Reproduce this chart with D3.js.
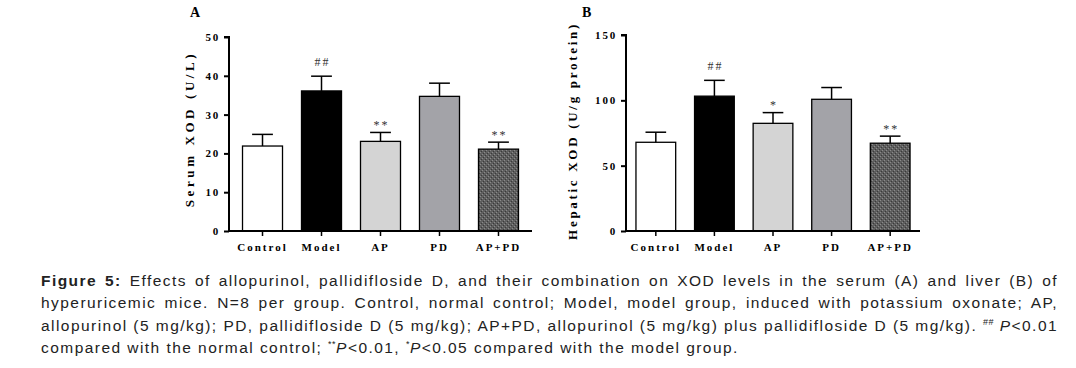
<!DOCTYPE html>
<html><head><meta charset="utf-8">
<script src="https://cdn.jsdelivr.net/npm/d3@7"></script>
<style>
html,body{margin:0;padding:0;background:#fff;width:1076px;height:368px;overflow:hidden;}
#chart{position:absolute;left:0;top:0;}
.cap{position:absolute;left:41px;width:1017px;font-family:"Liberation Sans",Arial,sans-serif;font-size:15.5px;letter-spacing:1.45px;color:#222;text-align:justify;text-align-last:justify;white-space:nowrap;line-height:22px;}
.cap.last{text-align-last:left;}
.cap sup{font-size:9px;vertical-align:6px;line-height:0;letter-spacing:0.5px;}
</style></head>
<body>
<svg id="chart" width="1076" height="368"></svg>
<div id="caption"></div>
<script>
const categories = ["Control","Model","AP","PD","AP+PD"];
const serumMean = [21.9, 36.1, 23.1, 34.7, 21.1];
const serumErr  = [24.9, 39.9, 25.4, 38.1, 22.9];
const hepaticMean = [67.9, 103.2, 82.4, 100.8, 67.2];
const hepaticErr  = [75.6, 115.3, 90.6, 109.8, 72.6];
const serumSig = ["", "##", "**", "", "**"];
const hepaticSig = ["", "##", "*", "", "**"];
const serumTicks = [0,10,20,30,40,50];
const hepaticTicks = [0,50,100,150];

const fills = ["#ffffff","#000000","#d4d4d4","#a3a3a8","url(#dots)"];
const svg = d3.select("#chart");

// pattern for AP+PD bar
const defs = svg.append("defs");
const pat = defs.append("pattern").attr("id","dots").attr("patternUnits","userSpaceOnUse")
  .attr("width",4).attr("height",4);
pat.append("rect").attr("width",4).attr("height",4).attr("fill","#5e5e5e");
pat.append("rect").attr("x",0).attr("y",0).attr("width",1).attr("height",1).attr("fill","#8a8a8a");
pat.append("rect").attr("x",2).attr("y",2).attr("width",1).attr("height",1).attr("fill","#8a8a8a");
pat.append("rect").attr("x",1).attr("y",3).attr("width",1).attr("height",1).attr("fill","#3a3a3a");
pat.append("rect").attr("x",3).attr("y",1).attr("width",1).attr("height",1).attr("fill","#3a3a3a");

const serif = "'Liberation Serif','Times New Roman',serif";

function panel(cfg){
  const g = svg.append("g");
  const x = d3.scaleBand().domain(categories).range(cfg.xr).paddingInner(0.322).paddingOuter(cfg.po);
  const y = d3.scaleLinear().domain(cfg.domain).range(cfg.yr);
  // bars
  g.selectAll("rect.bar").data(categories).join("rect")
    .attr("x",d=>x(d)).attr("width",x.bandwidth())
    .attr("y",(d,i)=>y(cfg.mean[i])).attr("height",(d,i)=>y(0)-y(cfg.mean[i]))
    .attr("fill",(d,i)=>fills[i]).attr("stroke","#000").attr("stroke-width",1.3);
  // error bars
  const cw = x.bandwidth()*0.26;
  categories.forEach((d,i)=>{
    const cx = x(d)+x.bandwidth()/2;
    g.append("line").attr("x1",cx).attr("x2",cx).attr("y1",y(cfg.mean[i])).attr("y2",y(cfg.err[i]))
      .attr("stroke","#000").attr("stroke-width",1.5);
    g.append("line").attr("x1",cx-cw).attr("x2",cx+cw).attr("y1",y(cfg.err[i])).attr("y2",y(cfg.err[i]))
      .attr("stroke","#000").attr("stroke-width",1.5);
    if(cfg.sig[i]){
      const off = cfg.sig[i].includes("#") ? 10 : 3.5;
      g.append("text").attr("x",cx+1).attr("y",y(cfg.err[i])-off)
        .attr("text-anchor","middle").attr("font-family",serif).attr("font-size",12)
        .attr("letter-spacing",2).attr("fill","#333").text(cfg.sig[i]);
    }
  });
  // y axis
  const ya = g.append("g").attr("transform",`translate(${cfg.xr[0]},0)`)
    .call(d3.axisLeft(y).tickValues(cfg.ticks).tickSize(5).tickPadding(4).tickFormat(d3.format("d")));
  ya.select(".domain").attr("stroke-width",2).attr("d",`M-5,${cfg.yr[1]}H0V${cfg.yr[0]+1}`);
  ya.selectAll(".tick line").attr("stroke-width",2);
  ya.selectAll("text").attr("font-family",serif).attr("font-weight","bold").attr("font-size",11)
    .attr("letter-spacing",1.8).attr("fill","#000");
  // x axis
  const xa = g.append("g").attr("transform",`translate(0,${cfg.yr[0]})`)
    .call(d3.axisBottom(x).tickSize(5).tickPadding(7));
  xa.select(".domain").attr("stroke-width",2).attr("d",`M${cfg.xr[0]-1},0H${cfg.xr[1]}`);
  xa.selectAll(".tick line").attr("stroke-width",1.5);
  xa.selectAll("text").attr("font-family",serif).attr("font-weight","bold").attr("font-size",11)
    .attr("letter-spacing",2).attr("fill","#000");
  // y title
  g.append("text").attr("transform",`translate(${cfg.titleX},${cfg.titleY}) rotate(-90)`)
    .attr("text-anchor","middle").attr("font-family",serif).attr("font-weight","bold")
    .attr("font-size",13).attr("letter-spacing",cfg.titleLS).text(cfg.title);
  // panel letter
  g.append("text").attr("x",cfg.letterX).attr("y",17).attr("font-family",serif)
    .attr("font-weight","bold").attr("font-size",14).text(cfg.letter);
}

panel({xr:[229,532], po:0.229, yr:[231,37], domain:[0,50], mean:serumMean, err:serumErr,
  sig:serumSig, ticks:serumTicks, title:"Serum XOD (U/L)", titleX:194, titleY:129, titleLS:3.6,
  letter:"A", letterX:190});
panel({xr:[626,920], po:0.17, yr:[231,35], domain:[0,150], mean:hepaticMean, err:hepaticErr,
  sig:hepaticSig, ticks:hepaticTicks, title:"Hepatic XOD (U/g protein)", titleX:577, titleY:131, titleLS:2.7,
  letter:"B", letterX:582});

// caption
const captionLines = [
  '<b>Figure 5:</b> Effects of allopurinol, pallidifloside D, and their combination on XOD levels in the serum (A) and liver (B) of',
  'hyperuricemic mice. N=8 per group. Control, normal control; Model, model group, induced with potassium oxonate; AP,',
  'allopurinol (5 mg/kg); PD, pallidifloside D (5 mg/kg); AP+PD, allopurinol (5 mg/kg) plus pallidifloside D (5 mg/kg). <sup>##</sup> <i>P</i>&lt;0.01',
  'compared with the normal control; <sup>**</sup><i>P</i>&lt;0.01, <sup>*</sup><i>P</i>&lt;0.05 compared with the model group.'
];
const capTops = [270, 292.3, 314.6, 337];
d3.select("#caption").selectAll("div").data(captionLines).join("div")
  .attr("class",(d,i)=>i===3?"cap last":"cap")
  .style("top",(d,i)=>capTops[i]+"px")
  .html(d=>d);
</script>
</body></html>
